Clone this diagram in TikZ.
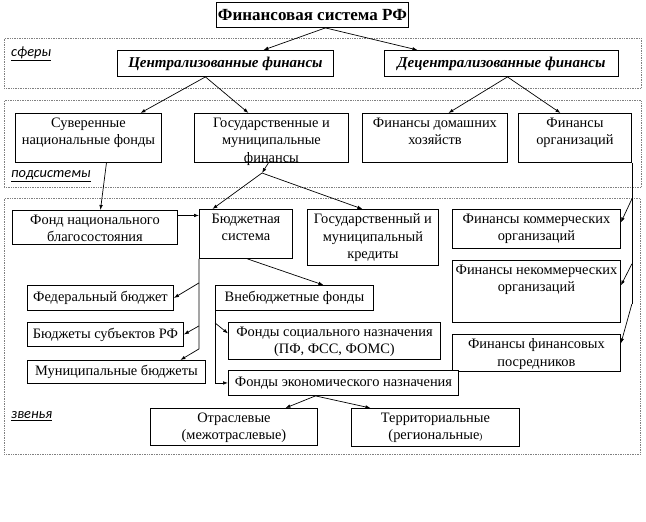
\documentclass[tikz,border=0pt]{standalone}
\usepackage{fontspec}
\setmainfont{Liberation Serif}
\newfontfamily\lblfont{Carlito}
\usetikzlibrary{arrows.meta,calc}
\newcommand\fs{\fontsize{14.4}{17.6}\selectfont}
\newcommand\bx[7][]{%
  \node[boxst, anchor=north west, minimum width={(#5-#3)*1pt}, minimum height={(#6-#4)*1pt}] (#2) at (#3,#4) {};
  \node[txt, anchor=north, yshift=-4.5pt, #1] (#2t) at (#2.north) {#7};
}
\newcommand\cbx[7][]{%
  \node[boxst, anchor=north west, minimum width={(#5-#3)*1pt}, minimum height={(#6-#4)*1pt}] (#2) at (#3,#4) {};
  \node[txt, anchor=center, #1] (#2t) at (#2.center) {#7};
}
\begin{document}
\begin{tikzpicture}[x=1pt,y=-1pt,
  boxst/.style={draw=black, line width=0.9pt, inner sep=0pt, fill=white},
  txt/.style={align=center, inner sep=0pt, font=\fs},
  arr/.style={-{Latex[length=5pt,width=3.6pt]}, line width=0.7pt},
  ln/.style={line width=0.7pt},
  zone/.style={draw=black!50, densely dotted, line width=0.7pt},
  lbl/.style={font=\lblfont\itshape\fontsize{14.4}{16}\selectfont, anchor=west, inner sep=0pt}]
\useasboundingbox (0,0) rectangle (646,522);
% zones
\node[zone, anchor=north west, minimum width=637pt, minimum height=50pt, inner sep=0pt] (z1) at (4,38) {};
\node[zone, anchor=north west, minimum width=637pt, minimum height=87pt, inner sep=0pt] (z2) at (4,100) {};
\node[zone, anchor=north west, minimum width=636pt, minimum height=256pt, inner sep=0pt] (z3) at (4,198) {};
\node[lbl] (l1) at (11,54) {\underline{сферы}};
\node[lbl] (l2) at (11,176) {\underline{подсистемы}};
\node[lbl] (l3) at (11,416) {\underline{звенья}};
% boxes
\cbx[font=\fontsize{17}{20}\selectfont\bfseries]{title}{216}{2}{408}{27}{Финансовая система РФ}
\cbx[font=\fontsize{15}{18}\selectfont\bfseries\itshape]{central}{117}{50}{333}{76}{Централизованные финансы}
\cbx[font=\fontsize{15}{18}\selectfont\bfseries\itshape]{decentral}{384}{50}{618}{76}{Децентрализованные финансы}
\bx{sov}{15}{113}{161}{162}{Суверенные\\национальные фонды}
\bx{gmf}{194}{113}{348}{162}{Государственные и\\муниципальные\\финансы}
\bx{fdh}{362}{113}{507}{162}{Финансы домашних\\хозяйств}
\bx{forg}{518}{113}{631}{162}{Финансы\\организаций}
\bx{fnb}{12}{210}{177}{244}{Фонд национального\\благосостояния}
\bx{bs}{199}{209}{292}{258}{Бюджетная\\система}
\bx{gmk}{307}{209}{438}{265}{Государственный и\\муниципальный\\кредиты}
\bx{fcom}{452}{209}{620}{248}{Финансы коммерческих\\организаций}
\bx{fnc}{452}{260}{620}{322}{Финансы некоммерческих\\организаций}
\bx{ffp}{452}{334}{620}{371}{Финансы финансовых\\посредников}
\cbx{fed}{27}{285}{173}{310}{Федеральный бюджет}
\cbx{subj}{27}{322}{183}{346}{Бюджеты субъектов РФ}
\cbx{mun}{27}{360}{205}{383}{Муниципальные бюджеты}
\cbx{vbf}{215}{285}{373}{310}{Внебюджетные фонды}
\bx{fsn}{228}{322}{440}{359}{Фонды социального назначения\\(ПФ, ФСС, ФОМС)}
\cbx{fen}{228}{370}{458}{395}{Фонды экономического назначения}
\bx{otr}{150}{408}{317}{445}{Отраслевые\\(межотраслевые)}
\bx{terr}{351}{408}{519}{446}{Территориальные\\(региональные{\fontsize{9}{10}\selectfont)}}
% connectors
\draw[arr] ([xshift=13pt]title.south) -- ([xshift=38pt]central.north);
\draw[arr] ([xshift=13pt]title.south) -- ([xshift=-84pt]decentral.north);
\draw[arr] ([xshift=-20pt]central.south) -- ([xshift=52pt]sov.north);
\draw[arr] ([xshift=-20pt]central.south) -- ([xshift=-23pt]gmf.north);
\draw[arr] ([xshift=6pt]decentral.south) -- ([xshift=13.5pt]fdh.north);
\draw[arr] ([xshift=6pt]decentral.south) -- ([xshift=-14.5pt]forg.north);
\coordinate (j) at (262,173);
\draw[arr] ([xshift=-3pt]gmf.south) -- (j);
\draw[arr] (j) -- ([xshift=-33.5pt]bs.north);
\draw[arr] (j) -- ([xshift=-10.5pt]gmk.north);
\draw[arr] ([xshift=18pt]sov.south) -- ([xshift=5.5pt]fnb.north);
\draw[arr] ([yshift=12pt]fnb.east) -- ([yshift=18.5pt]bs.west);
\draw[arr] ([xshift=1.5pt]bs.south) -- ([xshift=29pt]vbf.north);
\draw[arr] (bs.south west) -- ++(0,90) -- ([xshift=64pt]mun.north);
\draw[arr] ($(bs.south west)+(0,24)$) -- (fed.east);
\draw[arr] ($(bs.south west)+(0,67)$) -- (subj.east);
\draw[arr] (vbf.south west) -- (vbf.south west |- fen.west) -- (fen.west);
\draw[arr] ($(vbf.south west)+(0,12)$) -- ([yshift=7.5pt]fsn.west);
\draw[arr] ([xshift=-28pt]fen.south) -- ([xshift=51.5pt]otr.north);
\draw[arr] ([xshift=-28pt]fen.south) -- ([xshift=-65pt]terr.north);
\draw[ln] (forg.south east) -- ++(0,141);
\draw[arr] ($(forg.south east)+(0,36)$) -- ([yshift=6.5pt]fcom.east);
\draw[arr] ($(forg.south east)+(0,101)$) -- ([yshift=6pt]fnc.east);
\draw[arr] ($(forg.south east)+(0,141)$) -- ([yshift=9.5pt]ffp.east);
\end{tikzpicture}
\end{document}
